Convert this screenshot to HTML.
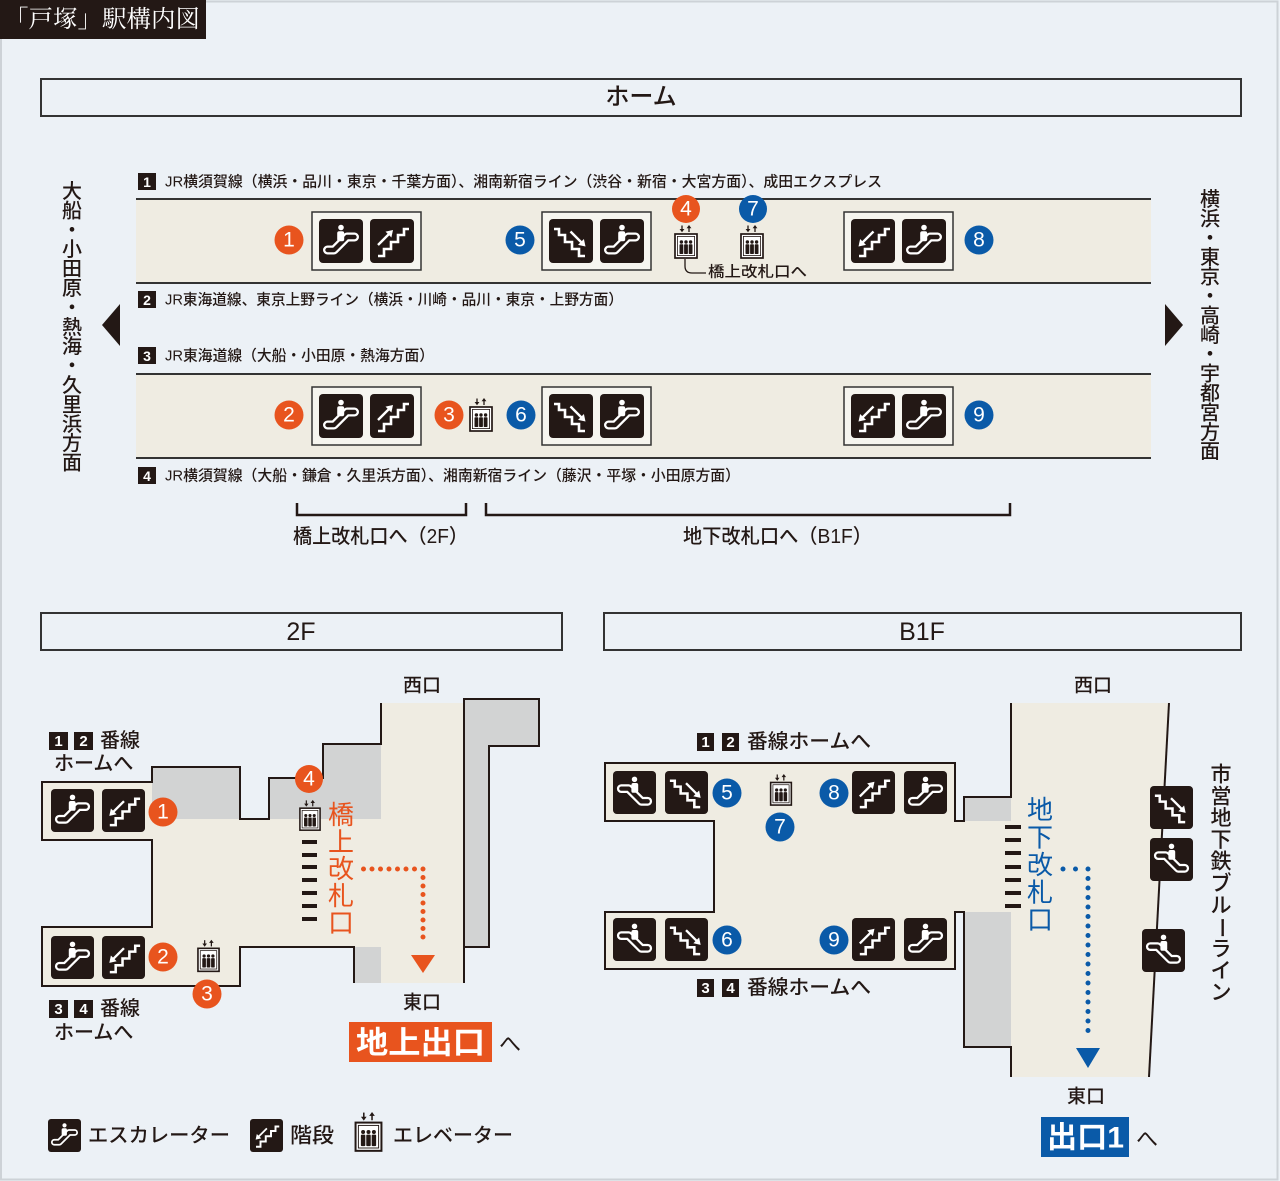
<!DOCTYPE html>
<html><head><meta charset="utf-8">
<style>
html,body{margin:0;padding:0;background:#ecf1f6;}
svg{display:block;}
text{font-family:"Liberation Sans","Noto Sans CJK JP",sans-serif;fill:#231815;dominant-baseline:central;}
.n{font-family:"Liberation Sans Narrow","Liberation Sans",sans-serif;fill:#fff;font-size:21px;text-anchor:middle;}
.b{font-family:"Liberation Sans",sans-serif;fill:#fff;font-size:14px;font-weight:bold;text-anchor:middle;}
.m{text-anchor:middle;}
.j{font-weight:500;}
</style></head><body>
<svg width="1280" height="1181" viewBox="0 0 1280 1181" xmlns="http://www.w3.org/2000/svg">
<defs>
<symbol id="escU" viewBox="0 0 44 44">
 <rect width="44" height="44" rx="4" fill="#231815"/>
 <path d="M8.5 31 L15 31 L28 18 L35.5 18" fill="none" stroke="#fff" stroke-width="9" stroke-linecap="round" stroke-linejoin="round"/>
 <path d="M8.5 31 L15 31 L28 18 L35.5 18" fill="none" stroke="#231815" stroke-width="4.4" stroke-linecap="round" stroke-linejoin="round"/>
 <circle cx="22" cy="8.5" r="2.8" fill="#fff"/>
 <rect x="18.2" y="12.3" width="7" height="10" rx="2" fill="#fff"/>
</symbol>
<symbol id="escD" viewBox="0 0 44 44">
 <g transform="translate(44,0) scale(-1,1)"><use href="#escU" width="44" height="44"/></g>
</symbol>
<symbol id="stNE" viewBox="0 0 44 44">
 <rect width="44" height="44" rx="4" fill="#231815"/>
 <path d="M8 37 H14 V30 H21 V23 H28 V16 H34 V10 H39" fill="none" stroke="#fff" stroke-width="2.6"/>
 <path d="M8 26 L19.5 14.5" stroke="#fff" stroke-width="2.4"/>
 <path d="M23 11 L15.5 12.6 L21.4 18.5 Z" fill="#fff"/>
</symbol>
<symbol id="stSW" viewBox="0 0 44 44">
 <rect width="44" height="44" rx="4" fill="#231815"/>
 <path d="M8 37 H14 V30 H21 V23 H28 V16 H34 V10 H39" fill="none" stroke="#fff" stroke-width="2.6"/>
 <path d="M11 24 L22.5 12.5" stroke="#fff" stroke-width="2.4"/>
 <path d="M7.5 27.5 L9.1 20 L15 25.9 Z" fill="#fff"/>
</symbol>
<symbol id="stD" viewBox="0 0 44 44">
 <g transform="translate(44,0) scale(-1,1)"><use href="#stSW" width="44" height="44"/></g>
</symbol>
<symbol id="elev" viewBox="0 0 24 34">
 <path d="M8 0.5 V5" stroke="#231815" stroke-width="1.3"/>
 <path d="M5.6 4 L10.4 4 L8 7.3 Z" fill="#231815"/>
 <path d="M15 2.5 V7" stroke="#231815" stroke-width="1.3"/>
 <path d="M12.6 3.3 L17.4 3.3 L15 0 Z" fill="#231815"/>
 <rect x="1" y="9" width="22" height="24" fill="#fff" stroke="#231815" stroke-width="1.7"/>
 <rect x="3.4" y="11.4" width="17.2" height="19.2" fill="none" stroke="#231815" stroke-width="0.8"/>
 <circle cx="7.4" cy="17" r="1.7" fill="#231815"/>
 <circle cx="12" cy="17" r="1.7" fill="#231815"/>
 <circle cx="16.6" cy="17" r="1.7" fill="#231815"/>
 <rect x="5.5" y="19.2" width="3.8" height="9.8" rx="0.8" fill="#231815"/>
 <rect x="10.1" y="19.2" width="3.8" height="9.8" rx="0.8" fill="#231815"/>
 <rect x="14.7" y="19.2" width="3.8" height="9.8" rx="0.8" fill="#231815"/>
</symbol>
</defs>

<rect x="0" y="0" width="1280" height="1181" fill="#ecf1f6"/>
<rect x="1" y="1.5" width="1276.5" height="1178" fill="none" stroke="#cdd2d7" stroke-width="2"/>

<!-- title -->
<rect x="0" y="0" width="206" height="39" fill="#231815"/>
<text x="4" y="20" style="font-family:'Liberation Serif','Noto Serif CJK SC',serif;fill:#fff;font-size:24px;" textLength="196" lengthAdjust="spacingAndGlyphs">「戸塚」駅構内図</text>

<!-- home header -->
<rect x="41" y="79" width="1200" height="37" fill="none" stroke="#333" stroke-width="2"/>
<text x="641" y="97" class="m j" style="font-size:24px">ホーム</text>

<!-- platforms -->
<rect x="136" y="199" width="1015" height="84" fill="#efece2"/>
<line x1="136" y1="199" x2="1151" y2="199" stroke="#333" stroke-width="2"/>
<line x1="136" y1="283" x2="1151" y2="283" stroke="#333" stroke-width="2"/>
<rect x="136" y="374" width="1015" height="84" fill="#efece2"/>
<line x1="136" y1="374" x2="1151" y2="374" stroke="#333" stroke-width="2"/>
<line x1="136" y1="458" x2="1151" y2="458" stroke="#333" stroke-width="2"/>

<!-- line labels -->
<rect x="138" y="173" width="18" height="17" fill="#231815"/><text x="147" y="182" class="b">1</text>
<text x="165" y="182" class="j" style="font-size:15px" textLength="717" lengthAdjust="spacingAndGlyphs">JR横須賀線（横浜・品川・東京・千葉方面）、湘南新宿ライン（渋谷・新宿・大宮方面）、成田エクスプレス</text>
<rect x="138" y="291" width="18" height="17" fill="#231815"/><text x="147" y="300" class="b">2</text>
<text x="165" y="300" class="j" style="font-size:15px" textLength="458" lengthAdjust="spacingAndGlyphs">JR東海道線、東京上野ライン（横浜・川崎・品川・東京・上野方面）</text>
<rect x="138" y="347" width="18" height="17" fill="#231815"/><text x="147" y="356" class="b">3</text>
<text x="165" y="356" class="j" style="font-size:15px" textLength="269" lengthAdjust="spacingAndGlyphs">JR東海道線（大船・小田原・熱海方面）</text>
<rect x="138" y="467" width="18" height="17" fill="#231815"/><text x="147" y="476" class="b">4</text>
<text x="165" y="476" class="j" style="font-size:15px" textLength="575" lengthAdjust="spacingAndGlyphs">JR横須賀線（大船・鎌倉・久里浜方面）、湘南新宿ライン（藤沢・平塚・小田原方面）</text>

<!-- platform 1 items -->
<rect x="312" y="212" width="109" height="58" fill="#f6f5ef" stroke="#333" stroke-width="1.5"/>
<use href="#escU" x="319" y="219" width="44" height="44"/>
<use href="#stNE" x="370" y="219" width="44" height="44"/>
<circle cx="289" cy="240" r="14.5" fill="#e8541e"/><text x="289" y="240" class="n">1</text>

<rect x="542" y="212" width="109" height="58" fill="#f6f5ef" stroke="#333" stroke-width="1.5"/>
<use href="#stD" x="549" y="219" width="44" height="44"/>
<use href="#escU" x="600" y="219" width="44" height="44"/>
<circle cx="520" cy="240" r="14.5" fill="#0a5aa8"/><text x="520" y="240" class="n">5</text>

<use href="#elev" x="674" y="225" width="24" height="34"/>
<circle cx="686" cy="209" r="14" fill="#e8541e"/><text x="686" y="209" class="n">4</text>
<use href="#elev" x="740" y="225" width="24" height="34"/>
<circle cx="753" cy="209" r="14" fill="#0a5aa8"/><text x="753" y="209" class="n">7</text>
<path d="M685 259 V266 Q685 273 692 273 H706" fill="none" stroke="#231815" stroke-width="1.3"/>
<text x="708" y="272" class="j" style="font-size:15px" textLength="99" lengthAdjust="spacingAndGlyphs">橋上改札口へ</text>

<rect x="844" y="212" width="109" height="58" fill="#f6f5ef" stroke="#333" stroke-width="1.5"/>
<use href="#stSW" x="851" y="219" width="44" height="44"/>
<use href="#escU" x="902" y="219" width="44" height="44"/>
<circle cx="979" cy="240" r="14.5" fill="#0a5aa8"/><text x="979" y="240" class="n">8</text>

<!-- platform 2 items -->
<rect x="312" y="387" width="109" height="58" fill="#f6f5ef" stroke="#333" stroke-width="1.5"/>
<use href="#escU" x="319" y="394" width="44" height="44"/>
<use href="#stNE" x="370" y="394" width="44" height="44"/>
<circle cx="289" cy="415" r="14.5" fill="#e8541e"/><text x="289" y="415" class="n">2</text>
<circle cx="449" cy="415" r="14.5" fill="#e8541e"/><text x="449" y="415" class="n">3</text>
<use href="#elev" x="469" y="398" width="24" height="34"/>
<circle cx="521" cy="415" r="14.5" fill="#0a5aa8"/><text x="521" y="415" class="n">6</text>
<rect x="542" y="387" width="109" height="58" fill="#f6f5ef" stroke="#333" stroke-width="1.5"/>
<use href="#stD" x="549" y="394" width="44" height="44"/>
<use href="#escU" x="600" y="394" width="44" height="44"/>
<rect x="844" y="387" width="109" height="58" fill="#f6f5ef" stroke="#333" stroke-width="1.5"/>
<use href="#stSW" x="851" y="394" width="44" height="44"/>
<use href="#escU" x="902" y="394" width="44" height="44"/>
<circle cx="979" cy="415" r="14.5" fill="#0a5aa8"/><text x="979" y="415" class="n">9</text>

<!-- direction arrows -->
<polygon points="102,325 120,304 120,346" fill="#231815"/>
<polygon points="1165,304 1165,346 1183,325" fill="#231815"/>

<!-- vertical left -->
<g class="j" style="font-size:20px;font-weight:500">
<text x="72" y="192" class="m">大</text><text x="72" y="211.4" class="m">船</text><text x="72" y="230.8" class="m">・</text><text x="72" y="250.2" class="m">小</text><text x="72" y="269.6" class="m">田</text><text x="72" y="289" class="m">原</text><text x="72" y="308.4" class="m">・</text><text x="72" y="327.8" class="m">熱</text><text x="72" y="347.2" class="m">海</text><text x="72" y="366.6" class="m">・</text><text x="72" y="386" class="m">久</text><text x="72" y="405.4" class="m">里</text><text x="72" y="424.8" class="m">浜</text><text x="72" y="444.2" class="m">方</text><text x="72" y="463.6" class="m">面</text>
</g>
<g style="font-size:20px;font-weight:500">
<text x="1210" y="200" class="m">横</text><text x="1210" y="219.4" class="m">浜</text><text x="1210" y="238.8" class="m">・</text><text x="1210" y="258.2" class="m">東</text><text x="1210" y="277.6" class="m">京</text><text x="1210" y="297" class="m">・</text><text x="1210" y="316.4" class="m">高</text><text x="1210" y="335.8" class="m">崎</text><text x="1210" y="355.2" class="m">・</text><text x="1210" y="374.6" class="m">宇</text><text x="1210" y="394" class="m">都</text><text x="1210" y="413.4" class="m">宮</text><text x="1210" y="432.8" class="m">方</text><text x="1210" y="452.2" class="m">面</text>
</g>

<!-- brackets -->
<path d="M297 503 V515 H466 V503" fill="none" stroke="#231815" stroke-width="2.5"/>
<path d="M486 503 V515 H1010 V503" fill="none" stroke="#231815" stroke-width="2.5"/>
<text x="293" y="537" class="j" style="font-size:20px" textLength="175" lengthAdjust="spacingAndGlyphs">橋上改札口へ（2F）</text>
<text x="683" y="537" class="j" style="font-size:20px" textLength="189" lengthAdjust="spacingAndGlyphs">地下改札口へ（B1F）</text>

<!-- floor headers -->
<rect x="41" y="613" width="521" height="37" fill="none" stroke="#333" stroke-width="2"/>
<text x="301" y="632" class="m" style="font-size:25px">2F</text>
<rect x="604" y="613" width="637" height="37" fill="none" stroke="#333" stroke-width="2"/>
<text x="922" y="632" class="m" style="font-size:25px">B1F</text>

<!-- 2F plan -->
<polygon points="42,782 152,782 152,767 240,767 240,819 269,819 269,778 323,778 323,744 381,744 381,703 464,703 464,983 354,983 354,947 240,947 240,986 42,986 42,927 152,927 152,840 42,840" fill="#efece2"/>
<rect x="152" y="767" width="88" height="52" fill="#d2d3d3"/>
<rect x="269" y="778" width="54" height="41" fill="#d2d3d3"/>
<rect x="323" y="744" width="58" height="75" fill="#d2d3d3"/>
<rect x="354" y="947" width="27" height="36" fill="#d2d3d3"/>
<polygon points="464,699 539,699 539,746 489,746 489,947 464,947" fill="#d2d3d3"/>
<path d="M381 703 V744 H323 V778 H269 V819 H240 V767 H152 V782 H42 V840 H152 V927 H42 V986 H240 V947 H354 V983" fill="none" stroke="#231815" stroke-width="2"/>
<path d="M464 983 V699 H539 V746 H489 V947 H464" fill="none" stroke="#231815" stroke-width="2"/>

<g fill="#231815">
<rect x="302" y="840" width="15" height="4"/><rect x="302" y="853" width="15" height="4"/><rect x="302" y="865" width="15" height="4"/><rect x="302" y="878" width="15" height="4"/><rect x="302" y="891" width="15" height="4"/><rect x="302" y="904" width="15" height="4"/><rect x="302" y="917" width="15" height="4"/>
</g>
<use href="#elev" x="299" y="799" width="22" height="33"/>
<circle cx="309" cy="779" r="14" fill="#e8541e"/><text x="309" y="779" class="n">4</text>
<g style="font-size:26px;fill:#e8541e">
<text x="341" y="815" class="m" style="fill:#e8541e">橋</text><text x="341" y="842" class="m" style="fill:#e8541e">上</text><text x="341" y="869" class="m" style="fill:#e8541e">改</text><text x="341" y="896" class="m" style="fill:#e8541e">札</text><text x="341" y="923" class="m" style="fill:#e8541e">口</text>
</g>
<path d="M363.5 869 H423 V945.5" fill="none" stroke="#e8541e" stroke-width="5" stroke-linecap="round" stroke-dasharray="0 8.5"/>
<polygon points="411,955 435,955 423,973" fill="#e8541e"/>

<use href="#escU" x="51" y="789" width="43" height="43"/>
<use href="#stSW" x="102" y="789" width="43" height="43"/>
<circle cx="163" cy="812" r="14.5" fill="#e8541e"/><text x="163" y="812" class="n">1</text>
<use href="#escU" x="51" y="936" width="43" height="43"/>
<use href="#stSW" x="102" y="936" width="43" height="43"/>
<circle cx="163" cy="957" r="14.5" fill="#e8541e"/><text x="163" y="957" class="n">2</text>
<use href="#elev" x="197" y="939" width="23" height="34"/>
<circle cx="207" cy="994" r="14.5" fill="#e8541e"/><text x="207" y="994" class="n">3</text>

<rect x="49" y="732" width="19" height="18" fill="#231815"/><text x="58.5" y="741.5" class="b" style="font-size:15px">1</text>
<rect x="74" y="732" width="19" height="18" fill="#231815"/><text x="83.5" y="741.5" class="b" style="font-size:15px">2</text>
<text x="100" y="741" class="j" style="font-size:20px">番線</text>
<text x="54" y="764" class="j" style="font-size:20px">ホームへ</text>
<rect x="49" y="1000" width="19" height="18" fill="#231815"/><text x="58.5" y="1009.5" class="b" style="font-size:15px">3</text>
<rect x="74" y="1000" width="19" height="18" fill="#231815"/><text x="83.5" y="1009.5" class="b" style="font-size:15px">4</text>
<text x="100" y="1009" class="j" style="font-size:20px">番線</text>
<text x="54" y="1033" class="j" style="font-size:20px">ホームへ</text>

<text x="422" y="686" class="m j" style="font-size:19px">西口</text>
<text x="422" y="1003" class="m j" style="font-size:19px">東口</text>
<rect x="349" y="1022" width="143" height="40" fill="#e8541e"/>
<text x="356" y="1043" style="font-size:31px;font-weight:bold;fill:#fff" textLength="129" lengthAdjust="spacingAndGlyphs">地上出口</text>
<text x="510" y="1044" class="m" style="font-size:22px">へ</text>

<!-- B1F plan -->
<polygon points="605,763 955,763 955,821 964,821 964,797 1011,797 1011,703 1169,703 1149,1077 1011,1077 1011,1047 964,1047 964,912 955,912 955,969 605,969 605,912 714,912 714,821 605,821" fill="#efece2"/>
<rect x="964" y="797" width="47" height="24" fill="#d2d3d3"/>
<rect x="964" y="912" width="47" height="135" fill="#d2d3d3"/>
<path d="M1011 703 V797 H964 V821 H955 V763 H605 V821 H714 V912 H605 V969 H955 V912 H964 V1047 H1011 V1077" fill="none" stroke="#231815" stroke-width="2"/>
<path d="M1169 703 L1149 1077" fill="none" stroke="#231815" stroke-width="2"/>

<g fill="#231815">
<rect x="1005" y="825" width="16" height="4"/><rect x="1005" y="838" width="16" height="4"/><rect x="1005" y="851" width="16" height="4"/><rect x="1005" y="865" width="16" height="4"/><rect x="1005" y="878" width="16" height="4"/><rect x="1005" y="891" width="16" height="4"/><rect x="1005" y="904" width="16" height="4"/>
</g>
<g style="font-size:26px">
<text x="1040" y="810" class="m" style="fill:#0a5aa8">地</text><text x="1040" y="837.5" class="m" style="fill:#0a5aa8">下</text><text x="1040" y="865" class="m" style="fill:#0a5aa8">改</text><text x="1040" y="892.5" class="m" style="fill:#0a5aa8">札</text><text x="1040" y="920" class="m" style="fill:#0a5aa8">口</text>
</g>
<path d="M1063 869 H1088" fill="none" stroke="#0a5aa8" stroke-width="5" stroke-linecap="round" stroke-dasharray="0 12.5"/>
<path d="M1088 869 V1040" fill="none" stroke="#0a5aa8" stroke-width="5" stroke-linecap="round" stroke-dasharray="0 9.5"/>
<polygon points="1076,1048 1100,1048 1088,1068" fill="#0a5aa8"/>

<use href="#escD" x="613" y="771" width="43" height="43"/>
<use href="#stD" x="665" y="771" width="43" height="43"/>
<circle cx="727" cy="793" r="14.5" fill="#0a5aa8"/><text x="727" y="793" class="n">5</text>
<use href="#elev" x="769" y="774" width="24" height="32"/>
<circle cx="780" cy="827" r="14.5" fill="#0a5aa8"/><text x="780" y="827" class="n">7</text>
<circle cx="834" cy="793" r="14.5" fill="#0a5aa8"/><text x="834" y="793" class="n">8</text>
<use href="#stNE" x="852" y="771" width="43" height="43"/>
<use href="#escU" x="904" y="771" width="43" height="43"/>

<use href="#escD" x="613" y="918" width="43" height="43"/>
<use href="#stD" x="665" y="918" width="43" height="43"/>
<circle cx="727" cy="940" r="14.5" fill="#0a5aa8"/><text x="727" y="940" class="n">6</text>
<circle cx="834" cy="940" r="14.5" fill="#0a5aa8"/><text x="834" y="940" class="n">9</text>
<use href="#stNE" x="852" y="918" width="43" height="43"/>
<use href="#escU" x="904" y="918" width="43" height="43"/>

<use href="#stD" x="1150" y="786" width="43" height="43"/>
<use href="#escD" x="1150" y="838" width="43" height="43"/>
<use href="#escD" x="1142" y="929" width="43" height="43"/>

<g style="font-size:21px;font-weight:500">
<text x="1221" y="775" class="m">市</text><text x="1221" y="796.8" class="m">営</text><text x="1221" y="818.6" class="m">地</text><text x="1221" y="840.4" class="m">下</text><text x="1221" y="862.2" class="m">鉄</text><text x="1221" y="884" class="m">ブ</text><text x="1221" y="905.8" class="m">ル</text><text x="1221" y="927.6" class="m" transform="rotate(90 1221 927.6)">ー</text><text x="1221" y="949.4" class="m">ラ</text><text x="1221" y="971.2" class="m">イ</text><text x="1221" y="993" class="m">ン</text>
</g>

<rect x="697" y="733" width="17" height="18" fill="#231815"/><text x="705.5" y="742.5" class="b" style="font-size:15px">1</text>
<rect x="722" y="733" width="17" height="18" fill="#231815"/><text x="730.5" y="742.5" class="b" style="font-size:15px">2</text>
<text x="747" y="742" class="j" style="font-size:20px" textLength="124" lengthAdjust="spacingAndGlyphs">番線ホームへ</text>
<rect x="697" y="979" width="17" height="18" fill="#231815"/><text x="705.5" y="988.5" class="b" style="font-size:15px">3</text>
<rect x="722" y="979" width="17" height="18" fill="#231815"/><text x="730.5" y="988.5" class="b" style="font-size:15px">4</text>
<text x="747" y="988" class="j" style="font-size:20px" textLength="124" lengthAdjust="spacingAndGlyphs">番線ホームへ</text>

<text x="1093" y="686" class="m j" style="font-size:19px">西口</text>
<text x="1086" y="1097" class="m j" style="font-size:19px">東口</text>
<rect x="1041" y="1117" width="88" height="40" fill="#0a5aa8"/>
<text x="1047" y="1138" style="font-size:30px;font-weight:bold;fill:#fff" textLength="77" lengthAdjust="spacingAndGlyphs">出口1</text>
<text x="1147" y="1139" class="m" style="font-size:22px">へ</text>

<!-- legend -->
<use href="#escU" x="48" y="1119" width="33" height="33"/>
<text x="88" y="1136" class="j" style="font-size:20px" textLength="142" lengthAdjust="spacingAndGlyphs">エスカレーター</text>
<use href="#stSW" x="250" y="1119" width="33" height="33"/>
<text x="290" y="1136" class="j" style="font-size:21px" textLength="44" lengthAdjust="spacingAndGlyphs">階段</text>
<use href="#elev" x="354" y="1112" width="29" height="40"/>
<text x="393" y="1136" class="j" style="font-size:20px" textLength="120" lengthAdjust="spacingAndGlyphs">エレベーター</text>
</svg>
</body></html>
